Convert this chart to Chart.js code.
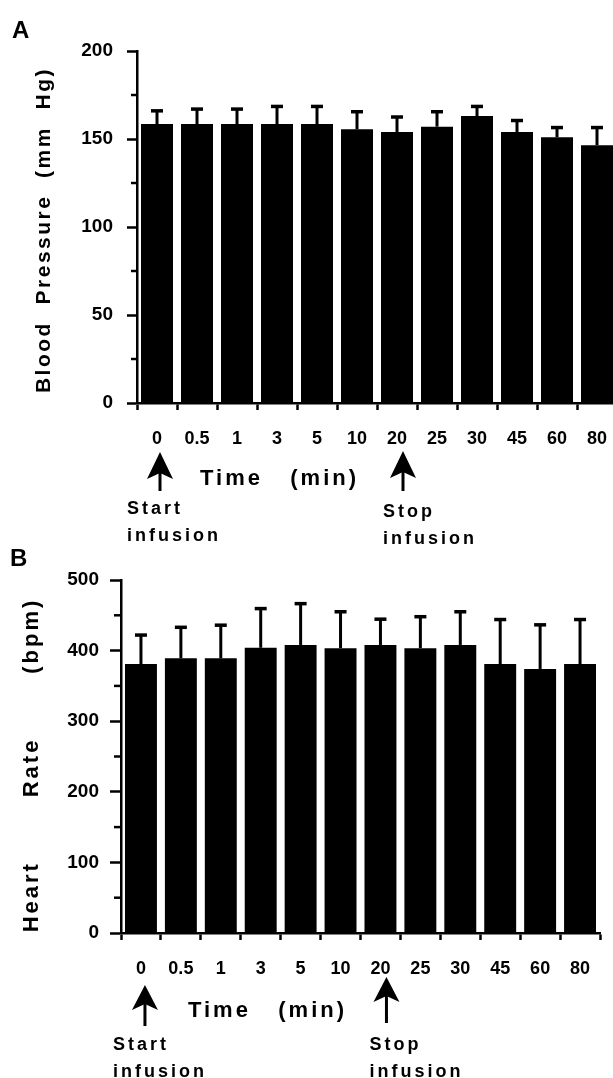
<!DOCTYPE html>
<html>
<head>
<meta charset="utf-8">
<script src="https://cdn.jsdelivr.net/npm/chart.js@4.4.0/dist/chart.umd.min.js"></script>
<style>
  html, body { margin: 0; padding: 0; background: #fff; }
  body { width: 613px; height: 1078px; overflow: hidden; position: relative; }
  canvas { position: absolute; left: 0; }
  #chartA { top: 0; }
  #chartB { top: 545px; }
</style>
</head>
<body>
<canvas id="chartA" width="640" height="550"></canvas>
<canvas id="chartB" width="613" height="533"></canvas>
<script>
// time points (min)
const timeLabels = ['0', '0.5', '1', '3', '5', '10', '20', '25', '30', '45', '60', '80'];

// A: blood pressure (mm Hg), mean and upper SD
const bpMean = [158.5, 158.5, 158.5, 158.5, 158.5, 155.5, 154, 157, 163, 154, 151, 146.5];
const bpSD   = [7.5, 8.5, 8.5, 10, 10, 10, 8.5, 8.5, 5.5, 6.5, 5.5, 10];

// B: heart rate (bpm), mean and upper SD
const hrMean = [381, 389, 389, 404, 408, 403.5, 408, 403.5, 408, 381, 374, 381];
const hrSD   = [41, 44, 47, 55.5, 58.5, 51.5, 36.5, 44.5, 47, 63, 62.5, 63];

const FONT = "'Liberation Sans', Arial, Helvetica, sans-serif";

const errorBars = {
  id: 'errorBars',
  afterDatasetsDraw(chart) {
    const ctx = chart.ctx;
    const y = chart.scales.y;
    chart.data.datasets.forEach((ds, i) => {
      chart.getDatasetMeta(i).data.forEach((bar, j) => {
        const top = y.getPixelForValue(ds.data[j] + ds.errorPlus[j]);
        ctx.save();
        ctx.strokeStyle = '#000';
        ctx.lineWidth = 3;
        ctx.beginPath();
        ctx.moveTo(bar.x, bar.y);
        ctx.lineTo(bar.x, top);
        ctx.stroke();
        ctx.lineWidth = 3.5;
        ctx.beginPath();
        ctx.moveTo(bar.x - 6, top);
        ctx.lineTo(bar.x + 6, top);
        ctx.stroke();
        ctx.restore();
      });
    });
  }
};

// panel letter, axis titles, arrows and the infusion notes
const annot = {
  id: 'annot',
  afterDraw(chart, args, o) {
    const ctx = chart.ctx, xs = chart.scales.x, ys = chart.scales.y, area = chart.chartArea;
    const catX = lab => xs.getPixelForValue(timeLabels.indexOf(lab));
    ctx.save();
    ctx.fillStyle = '#000';
    ctx.strokeStyle = '#000';

    // minor y ticks
    ctx.lineWidth = 2.5;
    ys.ticks.forEach(t => {
      if (t.value % o.major) {
        const py = ys.getPixelForValue(t.value);
        ctx.beginPath();
        ctx.moveTo(area.left - o.minorLen, py);
        ctx.lineTo(area.left, py);
        ctx.stroke();
      }
    });

    ctx.textBaseline = 'alphabetic';
    ctx.textAlign = 'left';
    ctx.font = `bold 24px ${FONT}`;
    ctx.fillText(o.letter, o.letterX, o.letterBase);

    // y title
    ctx.save();
    ctx.translate(o.titleX, o.titleY);
    ctx.rotate(-Math.PI / 2);
    ctx.font = `bold ${o.titleSize}px ${FONT}`;
    ctx.letterSpacing = o.titleSpacing;
    ctx.textAlign = 'center';
    ctx.textBaseline = 'middle';
    ctx.fillText(o.title, 0, 0);
    ctx.restore();

    // x title
    ctx.font = `bold 22px ${FONT}`;
    ctx.letterSpacing = '3px';
    ctx.fillText('Time   (min)', catX('0') + o.timeDx, area.bottom + o.timeDy);

    // notes
    ctx.font = `bold 18px ${FONT}`;
    ctx.letterSpacing = '3px';
    o.notes.forEach(n => ctx.fillText(n.text, catX(n.at) + n.dx, area.bottom + n.dy));
    ctx.letterSpacing = '0px';

    // arrows
    o.arrows.forEach(a => {
      const cx = catX(a.at) + a.dx;
      const top = area.bottom + a.top;
      const hb = top + a.headH;
      ctx.beginPath();
      ctx.moveTo(cx, top);
      ctx.lineTo(cx + 13, hb);
      ctx.lineTo(cx, hb - 6);
      ctx.lineTo(cx - 13, hb);
      ctx.closePath();
      ctx.fill();
      ctx.lineWidth = 3;
      ctx.beginPath();
      ctx.moveTo(cx, hb - 8);
      ctx.lineTo(cx, area.bottom + a.bottom);
      ctx.stroke();
    });
    ctx.restore();
  }
};

function makePanel(id, mean, sd, yMax, yStep, lay, notes) {
  return new Chart(document.getElementById(id), {
    type: 'bar',
    data: {
      labels: timeLabels,
      datasets: [{
        data: mean,
        errorPlus: sd,
        backgroundColor: '#000',
        borderWidth: 0,
        barPercentage: 0.8,
        categoryPercentage: 1.0
      }]
    },
    options: {
      responsive: false,
      animation: false,
      devicePixelRatio: 1,
      layout: { padding: { top: lay.top, right: lay.right, left: 0, bottom: 0 } },
      plugins: {
        legend: { display: false },
        tooltip: { enabled: false },
        annot: notes
      },
      scales: {
        x: {
          grid: { drawOnChartArea: false, offset: true, tickLength: 7, tickWidth: 2.5, tickColor: '#000' },
          border: { color: '#000', width: 2.5 },
          ticks: { color: '#000', padding: 18, autoSkip: false, maxRotation: 0,
                   font: { family: FONT, size: 18, weight: 'bold' } },
          afterFit: s => { s.height = lay.xHeight; s.paddingLeft = 0; s.paddingRight = 0; }
        },
        y: {
          min: 0,
          max: yMax,
          grid: { drawOnChartArea: false, tickLength: lay.tick, tickWidth: 2.5,
                  tickColor: c => (c.tick && c.tick.value % yStep) ? 'rgba(0,0,0,0)' : '#000' },
          border: { color: '#000', width: 2.5 },
          ticks: { stepSize: yStep / 2, color: '#000', padding: lay.tickPad,
                   font: { family: FONT, size: 19, weight: 'bold' },
                   callback: v => (v % yStep ? '' : v) },
          afterFit: s => { s.width = lay.yWidth; s.paddingTop = 0; s.paddingBottom = 0; }
        }
      }
    },
    plugins: [errorBars, annot]
  });
}

makePanel('chartA', bpMean, bpSD, 200, 50,
  { top: 51, right: 23, xHeight: 147, yWidth: 137, tick: 10, tickPad: 14 },
  {
    major: 50, minorLen: 6,
    letter: 'A', letterX: 12, letterBase: 38,
    title: 'Blood  Pressure  (mm  Hg)', titleX: 44, titleY: 230, titleSize: 21, titleSpacing: '2.5px',
    timeDx: 43, timeDy: 82,
    arrows: [
      { at: '0', dx: 3, top: 49, headH: 27, bottom: 88 },
      { at: '20', dx: 6, top: 48, headH: 27, bottom: 88 }
    ],
    notes: [
      { text: 'Start', at: '0', dx: -30, dy: 111 },
      { text: 'infusion', at: '0', dx: -30, dy: 138 },
      { text: 'Stop', at: '20', dx: -14, dy: 114 },
      { text: 'infusion', at: '20', dx: -14, dy: 141 }
    ]
  });

makePanel('chartB', hrMean, hrSD, 500, 100,
  { top: 35, right: 13, xHeight: 145, yWidth: 121, tick: 11, tickPad: 11 },
  {
    major: 100, minorLen: 7,
    letter: 'B', letterX: 10, letterBase: 21,
    title: 'Heart       Rate       (bpm)', titleX: 32, titleY: 220, titleSize: 22, titleSpacing: '3px',
    timeDx: 47, timeDy: 84,
    arrows: [
      { at: '0', dx: 4, top: 52, headH: 25, bottom: 93 },
      { at: '20', dx: 6, top: 44, headH: 25, bottom: 90 }
    ],
    notes: [
      { text: 'Start', at: '0', dx: -28, dy: 117 },
      { text: 'infusion', at: '0', dx: -28, dy: 144 },
      { text: 'Stop', at: '20', dx: -11, dy: 117 },
      { text: 'infusion', at: '20', dx: -11, dy: 144 }
    ]
  });
</script>
</body>
</html>
